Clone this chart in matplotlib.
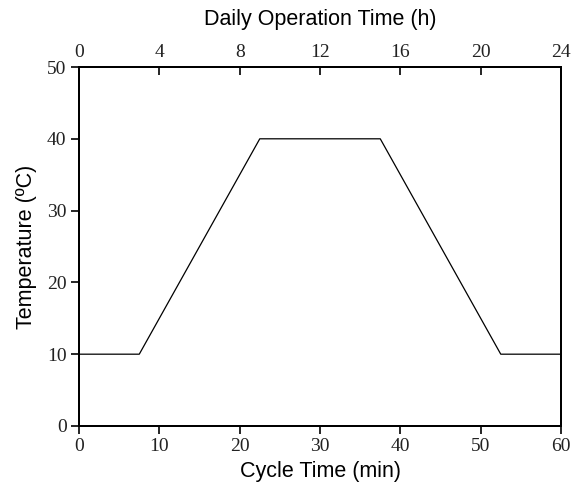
import matplotlib
matplotlib.use("Agg")
import matplotlib.pyplot as plt

# cycle profile
cycle_min = [0, 7.5, 22.5, 37.5, 52.5, 60]
temp_c = [10, 10, 40, 40, 10, 10]

x_ticks = [0, 10, 20, 30, 40, 50, 60]
top_ticks = [0, 4, 8, 12, 16, 20, 24]
y_ticks = [0, 10, 20, 30, 40, 50]

fig = plt.figure(figsize=(5.71, 4.87), dpi=100)
ax = fig.add_axes([0.1384, 0.1253, 0.8441, 0.7371])

ax.plot(cycle_min, temp_c, color="black", lw=0.9)
ax.set_xlim(0, 60)
ax.set_ylim(0, 50)

serif = "Liberation Serif"
sans = "Liberation Sans"

ax.set_xticks(x_ticks)
ax.set_yticks(y_ticks)
ax.tick_params(axis="both", direction="out", length=6, width=1.2, labelsize=14, pad=3,
               labelcolor="#222222")
ax.tick_params(axis="y", right=False)
for lab in ax.get_xticklabels() + ax.get_yticklabels():
    lab.set_fontfamily(serif)
for s in ax.spines.values():
    s.set_linewidth(1.4)

ax.set_xlabel("Cycle Time (min)", fontfamily=sans, fontsize=15.5, labelpad=4)
ax.set_ylabel("Temperature (ºC)", fontfamily=sans, fontsize=15.5, labelpad=7)

# top axis in hours
top = ax.twiny()
top.set_xlim(0, 24)
top.set_xticks(top_ticks)
top.tick_params(axis="x", direction="in", length=6, width=1.2, labelsize=14, pad=4,
                labelcolor="#222222")
for lab in top.get_xticklabels():
    lab.set_fontfamily(serif)
for s in top.spines.values():
    s.set_linewidth(1.4)
top.set_xlabel("Daily Operation Time (h)", fontfamily=sans, fontsize=15.5, labelpad=14)

fig.savefig("out.png", dpi=100)
